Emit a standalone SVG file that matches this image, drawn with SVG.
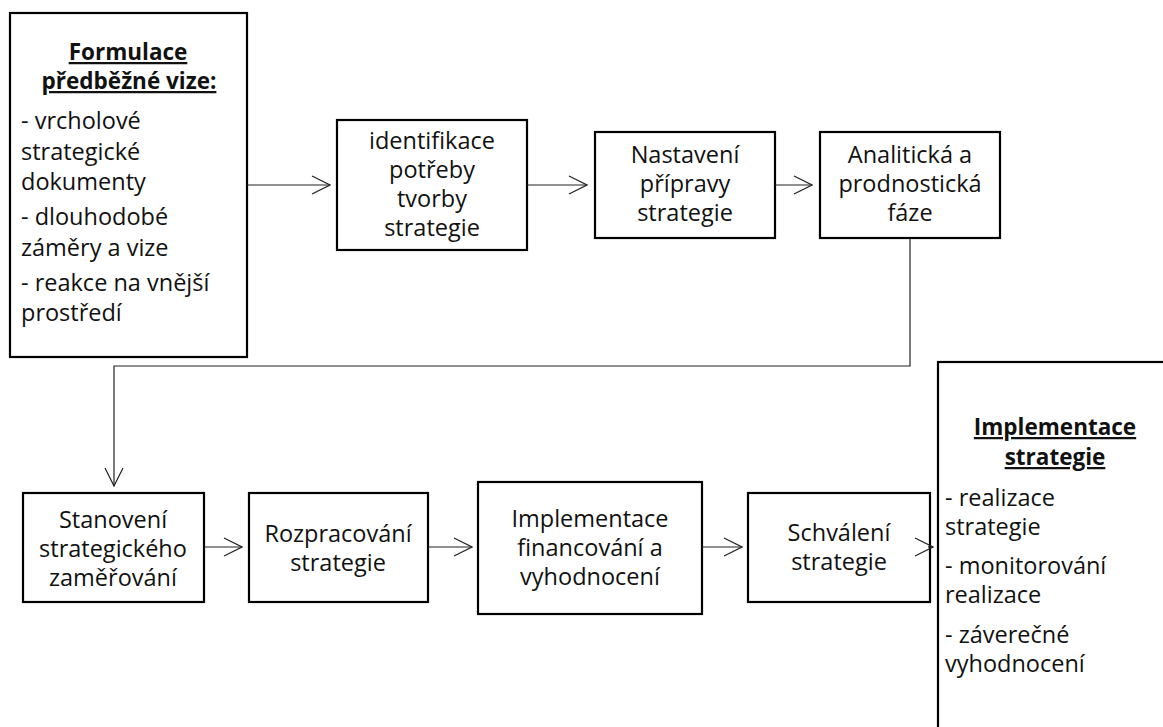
<svg xmlns="http://www.w3.org/2000/svg" width="1163" height="727" viewBox="0 0 1163 727">
<defs>
<style>
.box{fill:#fff;stroke:#000;stroke-width:2.2}
.t{font-family:"Open Sans","Liberation Sans",sans-serif;font-size:23.5px;fill:#111}
.c{text-anchor:middle}
.h{font-weight:bold;text-decoration:underline;font-size:22.5px}
.conn{fill:none;stroke:#222;stroke-width:1.2}
</style>
<marker id="arr" viewBox="0 0 20 20" refX="19" refY="10" markerWidth="20" markerHeight="20" markerUnits="userSpaceOnUse" orient="auto">
<path d="M1,1 L19,10 L1,19" fill="none" stroke="#222" stroke-width="1.2"/>
</marker>
</defs>
<rect width="1163" height="727" fill="#fff"/>
<g id="n-formulace">
<rect class="box" x="10" y="13" width="237" height="344"/>
<text class="t c h" x="128" y="60">Formulace</text>
<text class="t c h" x="129" y="89">předběžné vize:</text>
<text class="t" x="21" y="129">- vrcholové</text>
<text class="t" x="21" y="160">strategické</text>
<text class="t" x="21" y="190">dokumenty</text>
<text class="t" x="21" y="225">- dlouhodobé</text>
<text class="t" x="21" y="256">záměry a vize</text>
<text class="t" x="21" y="291">- reakce na vnější</text>
<text class="t" x="21" y="321">prostředí</text>
</g>
<g id="n-identifikace">
<rect class="box" x="337" y="120" width="190" height="130"/>
<text class="t c" x="432" y="149">identifikace</text>
<text class="t c" x="432" y="178">potřeby</text>
<text class="t c" x="432" y="207">tvorby</text>
<text class="t c" x="432" y="236">strategie</text>
</g>
<g id="n-nastaveni">
<rect class="box" x="595" y="132" width="180" height="106"/>
<text class="t c" x="685" y="163">Nastavení</text>
<text class="t c" x="685" y="192">přípravy</text>
<text class="t c" x="685" y="221">strategie</text>
</g>
<g id="n-analiticka">
<rect class="box" x="820" y="132" width="180" height="106"/>
<text class="t c" x="910" y="163">Analitická a</text>
<text class="t c" x="910" y="192">prodnostická</text>
<text class="t c" x="910" y="221">fáze</text>
</g>
<g id="n-stanoveni">
<rect class="box" x="23" y="493" width="181" height="109"/>
<text class="t c" x="113" y="528">Stanovení</text>
<text class="t c" x="113" y="557">strategického</text>
<text class="t c" x="113" y="586">zaměřování</text>
</g>
<g id="n-rozpracovani">
<rect class="box" x="249" y="493" width="179" height="109"/>
<text class="t c" x="338" y="542">Rozpracování</text>
<text class="t c" x="338" y="571">strategie</text>
</g>
<g id="n-financovani">
<rect class="box" x="478" y="482" width="224" height="132"/>
<text class="t c" x="590" y="527">Implementace</text>
<text class="t c" x="590" y="556">financování a</text>
<text class="t c" x="590" y="585">vyhodnocení</text>
</g>
<g id="n-schvaleni">
<rect class="box" x="748" y="493" width="182" height="109"/>
<text class="t c" x="839" y="541">Schválení</text>
<text class="t c" x="839" y="570">strategie</text>
</g>
<g id="n-implementace">
<rect class="box" x="938" y="362" width="260" height="400"/>
<text class="t c h" x="1055" y="435">Implementace</text>
<text class="t c h" x="1055" y="465">strategie</text>
<text class="t" x="945" y="506">- realizace</text>
<text class="t" x="945" y="535">strategie</text>
<text class="t" x="945" y="574">- monitorování</text>
<text class="t" x="945" y="603">realizace</text>
<text class="t" x="945" y="643">- záverečné</text>
<text class="t" x="945" y="672">vyhodnocení</text>
</g>
<g id="connectors">
<path class="conn" d="M247,185 H330" marker-end="url(#arr)"/>
<path class="conn" d="M527,185 H587" marker-end="url(#arr)"/>
<path class="conn" d="M775,185 H812" marker-end="url(#arr)"/>
<path class="conn" d="M910,238 V366 H114 V486" marker-end="url(#arr)"/>
<path class="conn" d="M204,547 H242" marker-end="url(#arr)"/>
<path class="conn" d="M428,547 H472" marker-end="url(#arr)"/>
<path class="conn" d="M702,547 H742" marker-end="url(#arr)"/>
<path class="conn" d="M928,547 H933" marker-end="url(#arr)"/>
</g>
</svg>
